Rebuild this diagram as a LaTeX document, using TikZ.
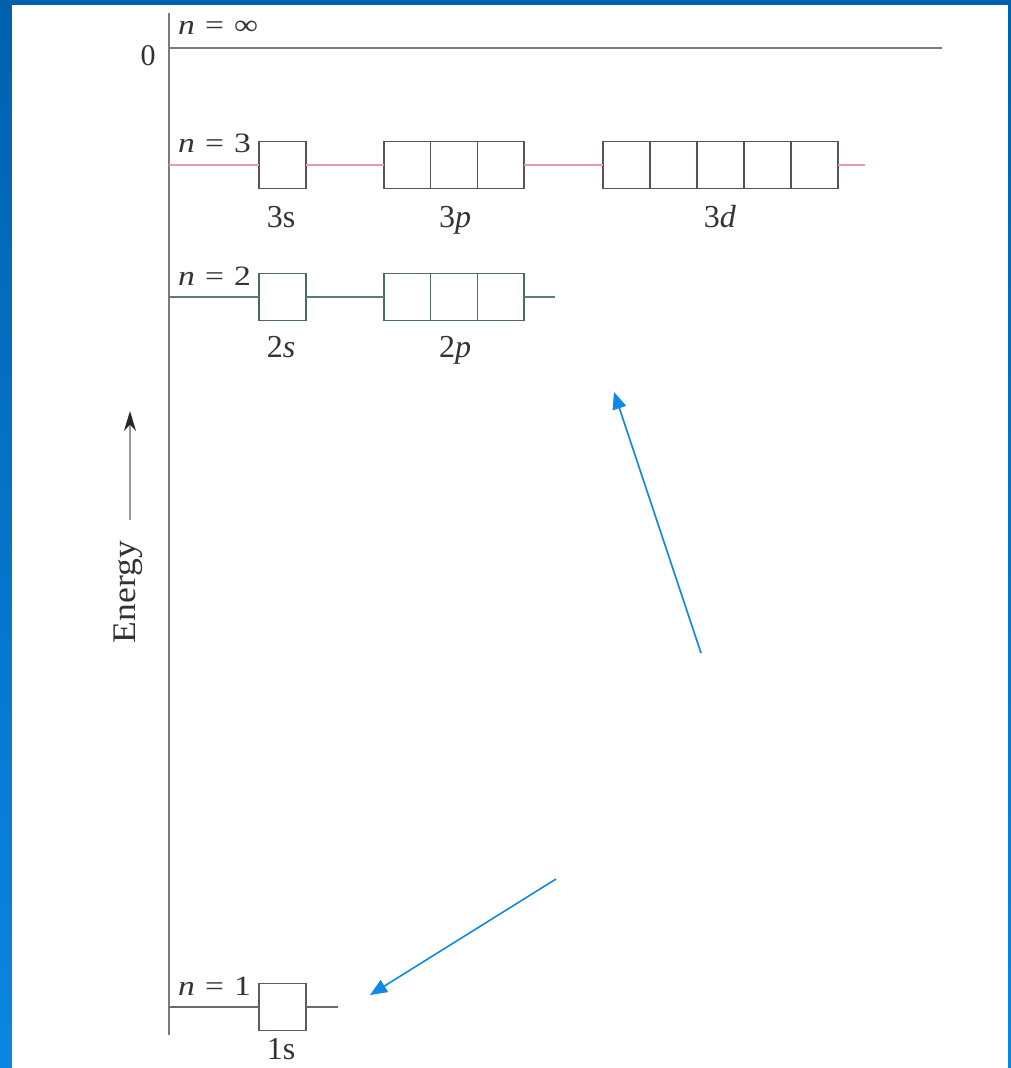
\documentclass[tikz,border=0pt]{standalone}
\usepackage{fontspec}
\setmainfont{Liberation Serif}
\usetikzlibrary{arrows.meta}
\definecolor{bgtop}{HTML}{0062AE}
\definecolor{bgbot}{HTML}{0A86E2}
\definecolor{axisgray}{HTML}{7C7C7C}
\definecolor{lvlthree}{HTML}{E59AAE}
\definecolor{boxthree}{HTML}{5E5058}
\definecolor{lvltwo}{HTML}{5A7E70}
\definecolor{boxtwo}{HTML}{4E6A62}
\definecolor{lvlone}{HTML}{6E6868}
\definecolor{boxone}{HTML}{625A5E}
\definecolor{noteblue}{HTML}{1088E6}
\definecolor{txt}{HTML}{333333}
\begin{document}
\begin{tikzpicture}[x=1pt,y=-1pt,
  nlbl/.style={inner sep=0pt, anchor=base west, text=txt, font=\fontsize{28}{32}\selectfont},
  olbl/.style={inner sep=0pt, anchor=base, text=txt, font=\fontsize{32}{36}\selectfont},
  orb/.style={draw, line width=1.4pt, minimum width=46.7pt, minimum height=46.5pt, inner sep=0pt, outer sep=0pt},
  lvl/.style={line width=1.8pt},
  note/.style={draw=noteblue, line width=1.6pt, -{Triangle[length=17pt,width=14pt]}}]
\useasboundingbox (0,0) rectangle (1011,1068);
% background
\shade[top color=bgtop, bottom color=bgbot] (0,0) rectangle (1011,1068);
\fill[white] (12,5) rectangle (1008,1080);

% axis
\coordinate (axtop) at (169,13);
\coordinate (axbot) at (169,1035);
\draw[axisgray, line width=1.8pt] (axtop) -- (axbot);
\coordinate (ax0) at (169,48);
\coordinate (end0) at (942,48);
\draw[axisgray, line width=1.8pt] (ax0) -- (end0);
\node[olbl, font=\fontsize{30}{34}\selectfont] (zero) at (148,65) {0};
\node[nlbl] (ninf) at (178,34) {\scalebox{1.2}[1]{\textit{n}\hspace{0.3em}=\hspace{0.3em}∞}};

% n = 3
\node[orb, draw=boxthree] (s3) at (282.5,165) {};
\node[orb, draw=boxthree] (p3a) at (407.3,165) {};
\node[orb, draw=boxthree] (p3b) at (454,165) {};
\node[orb, draw=boxthree] (p3c) at (500.7,165) {};
\node[orb, draw=boxthree] (d3a) at (626.5,165) {};
\node[orb, draw=boxthree] (d3b) at (673.5,165) {};
\node[orb, draw=boxthree] (d3c) at (720.5,165) {};
\node[orb, draw=boxthree] (d3d) at (767.5,165) {};
\node[orb, draw=boxthree] (d3e) at (814.5,165) {};
\coordinate (ax3) at (169,165);
\coordinate (end3) at (865,165);
\draw[lvl, lvlthree] (ax3) -- (s3.west);
\draw[lvl, lvlthree] (s3.east) -- (p3a.west);
\draw[lvl, lvlthree] (p3c.east) -- (d3a.west);
\draw[lvl, lvlthree] (d3e.east) -- (end3);
\node[nlbl] (n3) at (178,152) {\scalebox{1.2}[1]{\textit{n}\hspace{0.3em}=\hspace{0.3em}3}};
\node[olbl] (l3s) at (281,227) {3s};
\node[olbl] (l3p) at (455,227) {3\textit{p}};
\node[olbl] (l3d) at (720,227) {3\textit{d}};

% n = 2
\node[orb, draw=boxtwo] (s2) at (282.5,297) {};
\node[orb, draw=boxtwo] (p2a) at (407.3,297) {};
\node[orb, draw=boxtwo] (p2b) at (454,297) {};
\node[orb, draw=boxtwo] (p2c) at (500.7,297) {};
\coordinate (ax2) at (169,297);
\coordinate (end2) at (555,297);
\draw[lvl, lvltwo] (ax2) -- (s2.west);
\draw[lvl, lvltwo] (s2.east) -- (p2a.west);
\draw[lvl, lvltwo] (p2c.east) -- (end2);
\node[nlbl] (n2) at (178,285) {\scalebox{1.2}[1]{\textit{n}\hspace{0.3em}=\hspace{0.3em}2}};
\node[olbl] (l2s) at (281,357) {2\textit{s}};
\node[olbl] (l2p) at (455,357) {2\textit{p}};

% n = 1
\node[orb, draw=boxone] (s1) at (282.5,1007) {};
\coordinate (ax1) at (169,1007);
\coordinate (end1) at (338,1007);
\draw[lvl, lvlone] (ax1) -- (s1.west);
\draw[lvl, lvlone] (s1.east) -- (end1);
\node[nlbl] (n1) at (178,995) {\scalebox{1.2}[1]{\textit{n}\hspace{0.3em}=\hspace{0.3em}1}};
\node[olbl] (l1s) at (281,1059) {1s};

% energy label and arrow
\node[inner sep=0pt, anchor=base, rotate=90, text=txt, font=\fontsize{33}{37}\selectfont] (energy) at (135,592) {\scalebox{1.08}[1]{Energy}};
\coordinate (eabot) at (130,520);
\coordinate (eatop) at (130,411);
\draw[line width=1.6pt, black!40, -{Stealth[length=20pt,width=12pt,color=black!85]}] (eabot) -- (eatop);

% blue annotation arrows
\coordinate (b1s) at (701,653);
\coordinate (b1e) at (614,392);
\draw[note] (b1s) -- (b1e);
\coordinate (b2s) at (556,879);
\coordinate (b2e) at (370,995);
\draw[note] (b2s) -- (b2e);
\end{tikzpicture}
\end{document}
